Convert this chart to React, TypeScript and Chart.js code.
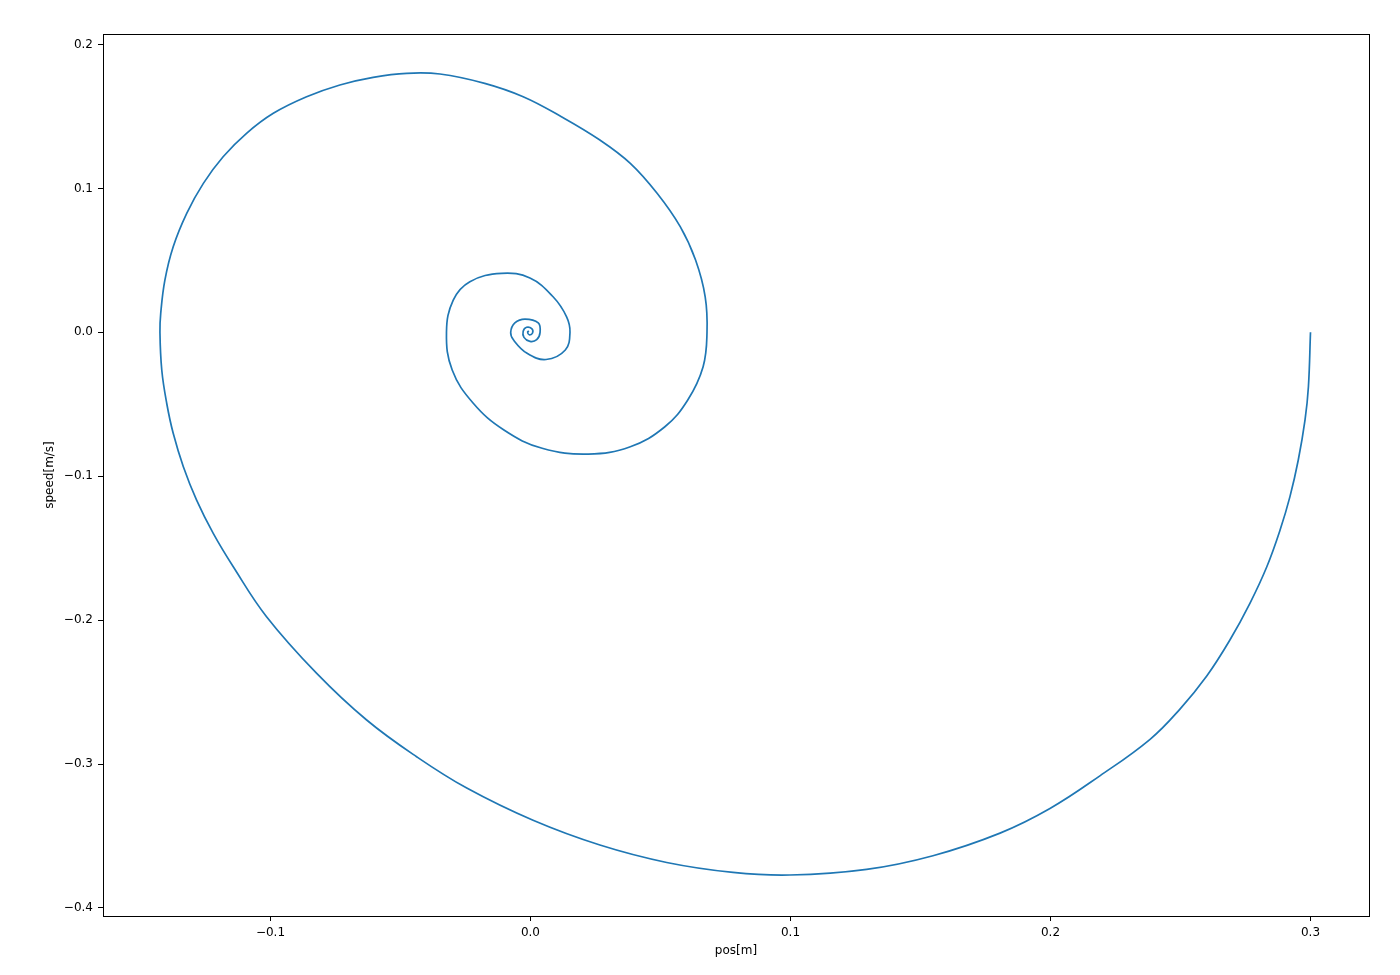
import React, { useEffect, useRef } from "react";
import { Chart, registerables } from "chart.js";

Chart.register(...registerables);

// Phase trajectory (pos [m], speed [m/s])
const posValues: number[] = [
  0.3, 0.2992, 0.2979, 0.2953, 0.2921, 0.2883, 0.2832, 0.2767, 0.269, 0.2601,
  0.2498, 0.2383, 0.219, 0.1998, 0.1806, 0.1548, 0.1293, 0.0998, 0.0779, 0.0524,
  0.0267, 0.001, -0.0245, -0.0438, -0.063, -0.0822, -0.1015, -0.1143, -0.122, -0.1284,
  -0.1335, -0.1374, -0.1399, -0.1418, -0.1425, -0.1422, -0.1406, -0.1374, -0.1322, -0.1258,
  -0.1182, -0.1092, -0.0989, -0.0861, -0.0733, -0.0605, -0.0476, -0.0348, -0.0176, -0.0028,
  0.0119, 0.0267, 0.0384, 0.0487, 0.0576, 0.0635, 0.0672, 0.0679, 0.0664, 0.0605,
  0.0517, 0.0384, 0.0222, 0.0045, -0.0102, -0.022, -0.0301, -0.0323, -0.0297, -0.0233,
  -0.0111, -0.0002, 0.0087, 0.0139, 0.0152, 0.0134, 0.006, -0.0013, -0.0065, -0.0076,
  -0.006, -0.0021, 0.003, 0.0037, 0.0024, -0.0002, -0.0025, -0.0028, -0.0015, 0.0005,
  0.0008, -0.0005, -0.0011, -0.0006,
];

const speedValues: number[] = [
  0.0, -0.0378, -0.0609, -0.0887, -0.1142, -0.1374, -0.1629, -0.1883, -0.2138, -0.2388,
  -0.2618, -0.2828, -0.3082, -0.3309, -0.348, -0.3637, -0.3732, -0.3771, -0.3753, -0.3684,
  -0.3563, -0.3391, -0.3167, -0.2949, -0.2694, -0.237, -0.1976, -0.1629, -0.1397, -0.1166,
  -0.0934, -0.0702, -0.0493, -0.0262, 0.0, 0.0132, 0.0363, 0.0595, 0.0827, 0.1035,
  0.122, 0.1383, 0.1522, 0.1637, 0.1719, 0.1772, 0.18, 0.1795, 0.173, 0.1637,
  0.1498, 0.1336, 0.1174, 0.0966, 0.0734, 0.0502, 0.0247, 0.0, -0.0239, -0.047,
  -0.0656, -0.0795, -0.0846, -0.0806, -0.0679, -0.0493, -0.0262, 0.0, 0.0224, 0.0352,
  0.041, 0.0377, 0.0247, 0.0108, 0.0, -0.0123, -0.0189, -0.0146, -0.0054, 0.0,
  0.0065, 0.0092, 0.0065, 0.0, -0.0051, -0.0063, -0.0035, 0.0007, 0.0035, 0.0025,
  -0.0005, -0.0017, 0.0002, 0.0009,
];

const xTickValues: number[] = [-0.1, 0.0, 0.1, 0.2, 0.3];
const yTickValues: number[] = [-0.4, -0.3, -0.2, -0.1, 0.0, 0.1, 0.2];
const xLabel = "pos[m]";
const yLabel = "speed[m/s]";

const fmt = (v: number) => {
  const s = Math.abs(v).toFixed(1);
  return v < -1e-9 ? "\u2212" + s : s;
};

const framePlugin = {
  id: "frame",
  afterDatasetsDraw(chart: any) {
    const { ctx, chartArea } = chart;
    ctx.save();
    ctx.strokeStyle = "#000";
    ctx.lineWidth = 1;
    ctx.strokeRect(
      Math.round(chartArea.left) + 0.5,
      Math.round(chartArea.top) + 0.5,
      Math.round(chartArea.right - chartArea.left),
      Math.round(chartArea.bottom - chartArea.top)
    );
    ctx.restore();
  },
};

export default function App() {
  const ref = useRef<HTMLCanvasElement | null>(null);

  useEffect(() => {
    if (!ref.current) return;
    const points = posValues.map((x, i) => ({ x, y: speedValues[i] }));
    const font = { family: "'DejaVu Sans', sans-serif", size: 12 };
    const chart = new Chart(ref.current, {
      type: "scatter",
      data: {
        datasets: [
          {
            data: points,
            showLine: true,
            borderColor: "#1f77b4",
            backgroundColor: "#1f77b4",
            borderWidth: 1.7,
            pointRadius: 0,
            tension: 0.4,
            fill: false,
          },
        ],
      },
      options: {
        animation: false,
        responsive: false,
        devicePixelRatio: 1,
        layout: { padding: { left: 0, right: 31, top: 34, bottom: 0 } },
        plugins: {
          legend: { display: false },
          tooltip: { enabled: false },
        },
        scales: {
          x: {
            type: "linear",
            min: -0.1644,
            max: 0.3225,
            afterFit: (s: any) => {
              s.height = 59;
            },
            afterBuildTicks: (s: any) => {
              s.ticks = xTickValues.map((v) => ({ value: v }));
            },
            ticks: {
              color: "#000",
              font,
              padding: 5,
              maxRotation: 0,
              callback: (v: any) => fmt(Number(v)),
            },
            grid: {
              drawOnChartArea: false,
              drawTicks: true,
              tickLength: 5,
              color: "#000",
              tickColor: "#000",
            },
            border: { display: false },
            title: {
              display: true,
              text: xLabel,
              color: "#000",
              font,
              padding: { top: 0, bottom: 17 },
            },
          },
          y: {
            type: "linear",
            min: -0.4056,
            max: 0.2073,
            afterFit: (s: any) => {
              s.width = 103;
            },
            afterBuildTicks: (s: any) => {
              s.ticks = yTickValues.map((v) => ({ value: v }));
            },
            ticks: {
              color: "#000",
              font,
              padding: 5,
              callback: (v: any) => fmt(Number(v)),
            },
            grid: {
              drawOnChartArea: false,
              drawTicks: true,
              tickLength: 5,
              color: "#000",
              tickColor: "#000",
            },
            border: { display: false },
            title: {
              display: true,
              text: yLabel,
              color: "#000",
              font,
              padding: { top: 43, bottom: 0 },
            },
          },
        },
      },
      plugins: [framePlugin],
    });
    return () => chart.destroy();
  }, []);

  return (
    <div style={{ position: "fixed", left: 0, top: 0, width: 1400, height: 975, background: "#fff" }}>
      <canvas ref={ref} width={1400} height={975} style={{ display: "block" }} />
    </div>
  );
}
